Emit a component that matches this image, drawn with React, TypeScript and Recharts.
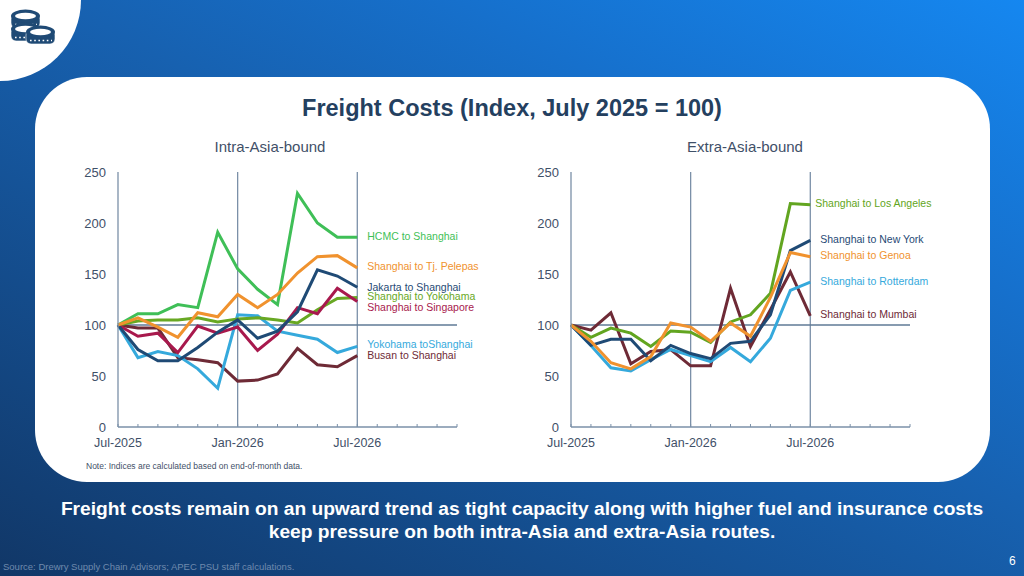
import { LineChart, Line, XAxis, YAxis, ReferenceLine, ReferenceDot } from "recharts";

const months = [
  "Jul-2025", "Aug-2025", "Sep-2025", "Oct-2025", "Nov-2025", "Dec-2025", "Jan-2026", "Feb-2026", "Mar-2026",
  "Apr-2026", "May-2026", "Jun-2026", "Jul-2026", "Aug-2026", "Sep-2026", "Oct-2026", "Nov-2026", "Dec-2026",
];
const shownMonths = ["Jul-2025", "Jan-2026", "Jul-2026"];
const yTicks = [0, 50, 100, 150, 200, 250];

// intra-Asia
const hcmcShanghai = [100, 111, 111, 120, 117, 191, 155, 135, 120, 229, 200, 186, 186];
const shanghaiPelepas = [100, 107, 98, 88, 112, 108, 130, 117, 130, 151, 167, 168, 156];
const jakartaShanghai = [100, 76, 65, 65, 78, 93, 105, 87, 94, 113, 154, 148, 137];
const shanghaiYokohama = [100, 104, 105, 105, 107, 103, 106, 107, 105, 102, 115, 126, 127];
const shanghaiSingapore = [100, 89, 92, 73, 99, 92, 98, 75, 91, 117, 111, 136, 123];
const yokohamaShanghai = [100, 68, 74, 70, 57, 38, 110, 109, 94, 90, 86, 73, 79];
const busanShanghai = [100, 97, 97, 68, 66, 63, 45, 46, 52, 77, 61, 59, 70];

// extra-Asia
const shanghaiLA = [100, 88, 97, 92, 79, 94, 93, 83, 103, 110, 131, 219, 218];
const shanghaiNY = [100, 80, 86, 86, 65, 80, 72, 67, 82, 84, 110, 173, 183];
const shanghaiGenoa = [100, 84, 63, 57, 69, 102, 98, 84, 102, 89, 127, 171, 167];
const shanghaiRotterdam = [100, 80, 58, 55, 66, 76, 70, 64, 78, 64, 87, 134, 142];
const shanghaiMumbai = [100, 95, 112, 62, 74, 76, 60, 60, 136, 79, 115, 152, 109];

const navy = "#1f4a75";
const textColor = "#3f5068";
const axisColor = "#7b90a8";

type Series = { name: string; values: number[]; color: string; labelAt: number; labelDx?: number };

// listed bottom line first, the last one is drawn on top
const intraSeries: Series[] = [
  { name: "Busan to Shanghai", values: busanShanghai, color: "#6e2a36", labelAt: 70.5 },
  { name: "Yokohama toShanghai", values: yokohamaShanghai, color: "#35a9dc", labelAt: 81 },
  { name: "Shanghai to Yokohama", values: shanghaiYokohama, color: "#68a823", labelAt: 127.5 },
  { name: "HCMC to Shanghai", values: hcmcShanghai, color: "#3fbf57", labelAt: 187 },
  { name: "Shanghai to Singapore", values: shanghaiSingapore, color: "#a8194d", labelAt: 117.5 },
  { name: "Jakarta to Shanghai", values: jakartaShanghai, color: navy, labelAt: 137 },
  { name: "Shanghai to Tj. Pelepas", values: shanghaiPelepas, color: "#f0922e", labelAt: 157 },
];

const extraSeries: Series[] = [
  { name: "Shanghai to Mumbai", values: shanghaiMumbai, color: "#6e2a36", labelAt: 110 },
  { name: "Shanghai to Rotterdam", values: shanghaiRotterdam, color: "#35a9dc", labelAt: 143 },
  { name: "Shanghai to Los Angeles", values: shanghaiLA, color: "#62a520", labelAt: 219, labelDx: 5 },
  { name: "Shanghai to New York", values: shanghaiNY, color: navy, labelAt: 184 },
  { name: "Shanghai to Genoa", values: shanghaiGenoa, color: "#f0922e", labelAt: 168 },
];

const font = "Liberation Sans, Arial, sans-serif";

function MonthTick({ x, y, payload }: any) {
  const show = shownMonths.includes(payload.value);
  return (
    <g>
      <line x1={x} x2={x} y1={y} y2={y - 3} stroke={axisColor} strokeWidth={1} />
      {show && (
        <text x={x} y={y + 20} textAnchor="middle" fontSize={12.5} fill={textColor} fontFamily={font}>
          {payload.value}
        </text>
      )}
    </g>
  );
}

function Panel({ series, left }: { series: Series[]; left: number }) {
  const rows = months.map((month, i) => {
    const row: Record<string, any> = { month };
    series.forEach((s) => {
      row[s.name] = s.values[i];
    });
    return row;
  });
  return (
    <div style={{ position: "absolute", left, top: 160 }}>
      <LineChart width={460} height={290} data={rows} margin={{ top: 12, right: 73, bottom: 0, left: 0 }}>
        <XAxis
          dataKey="month"
          height={23}
          interval={0}
          stroke={axisColor}
          strokeWidth={1.3}
          tickLine={false}
          tickSize={0}
          tickMargin={0}
          tick={<MonthTick />}
        />
        <YAxis
          width={48}
          domain={[0, 250]}
          ticks={yTicks}
          stroke={axisColor}
          strokeWidth={1.3}
          tickLine={false}
          tickSize={0}
          tickMargin={12}
          tick={{ fontSize: 13, fill: textColor, fontFamily: font }}
        />
        <ReferenceLine x="Jan-2026" stroke={axisColor} strokeWidth={1.3} />
        <ReferenceLine x="Jul-2026" stroke={axisColor} strokeWidth={1.3} />
        <ReferenceLine y={100} stroke="#5f7a96" strokeWidth={1.3} />
        {series.map((s) => (
          <Line
            key={s.name}
            dataKey={s.name}
            stroke={s.color}
            strokeWidth={3}
            dot={false}
            strokeLinejoin="miter"
            isAnimationActive={false}
          />
        ))}
        {series.map((s) => (
          <ReferenceDot
            key={s.name + "-label"}
            x="Jul-2026"
            y={s.labelAt}
            r={0}
            shape={(p: any) => (
              <text
                x={p.cx + (s.labelDx ?? 10)}
                y={p.cy + 3.5}
                fontSize={10.5}
                fill={s.color}
                fontFamily={font}
              >
                {s.name}
              </text>
            )}
          />
        ))}
      </LineChart>
    </div>
  );
}

function Coin({ x, y }: { x: number; y: number }) {
  return (
    <g>
      <rect x={x} y={y + 1} width={29} height={14} rx={5} fill={navy} stroke="#fff" strokeWidth={0.6} />
      <ellipse cx={x + 14.5} cy={y + 3} rx={14.5} ry={6.5} fill={navy} />
      <ellipse cx={x + 14.5} cy={y + 3} rx={10.5} ry={3.2} fill="#fff" />
      <line x1={x + 4} x2={x + 26} y1={y + 11.5} y2={y + 11.5} stroke="#fff" strokeWidth={1.6} strokeDasharray="1.6 2.6" />
    </g>
  );
}

function text(top: number, left: number, width: number, style: any, content: string) {
  return (
    <div style={{ position: "absolute", top, left, width, fontFamily: font, whiteSpace: "nowrap", ...style }}>
      {content}
    </div>
  );
}

export default function App() {
  return (
    <div
      style={{
        position: "absolute",
        left: 0,
        top: 0,
        width: 1024,
        height: 576,
        overflow: "hidden",
        background: "linear-gradient(28deg, #113767 0%, #1761b0 54%, #1670cc 73%, #1587f0 100%)",
      }}
    >
      <div style={{ position: "absolute", left: 0, top: 0, width: 81, height: 81, background: "#fff", borderBottomRightRadius: 81 }} />
      <svg style={{ position: "absolute", left: 0, top: 0 }} width={81} height={81}>
        <Coin x={11} y={13} />
        <Coin x={11} y={26} />
        <Coin x={26} y={29} />
      </svg>
      <div style={{ position: "absolute", left: 35, top: 77, width: 955, height: 405, background: "#fff", borderRadius: 52 }} />
      {text(95, 0, 1024, { textAlign: "center", fontSize: 23.5, fontWeight: 700, color: "#24405f" }, "Freight Costs (Index, July 2025 = 100)")}
      {text(138, 70, 400, { textAlign: "center", fontSize: 15, color: textColor }, "Intra-Asia-bound")}
      {text(138, 545, 400, { textAlign: "center", fontSize: 15, color: textColor }, "Extra-Asia-bound")}
      <Panel series={intraSeries} left={70} />
      <Panel series={extraSeries} left={523} />
      {text(461, 86, 400, { fontSize: 8.5, color: textColor }, "Note: Indices are calculated based on end-of-month data.")}
      {text(498, 0, 1044, { textAlign: "center", fontSize: 19.2, fontWeight: 700, color: "#fff" }, "Freight costs remain on an upward trend as tight capacity along with higher fuel and insurance costs")}
      {text(521, 0, 1044, { textAlign: "center", fontSize: 19.2, fontWeight: 700, color: "#fff" }, "keep pressure on both intra-Asia and extra-Asia routes.")}
      {text(561, 3, 400, { fontSize: 9.5, color: "#6f8aad" }, "Source: Drewry Supply Chain Advisors; APEC PSU staff calculations.")}
      {text(554, 1009, 16, { fontSize: 12, color: "#fff" }, "6")}
    </div>
  );
}
